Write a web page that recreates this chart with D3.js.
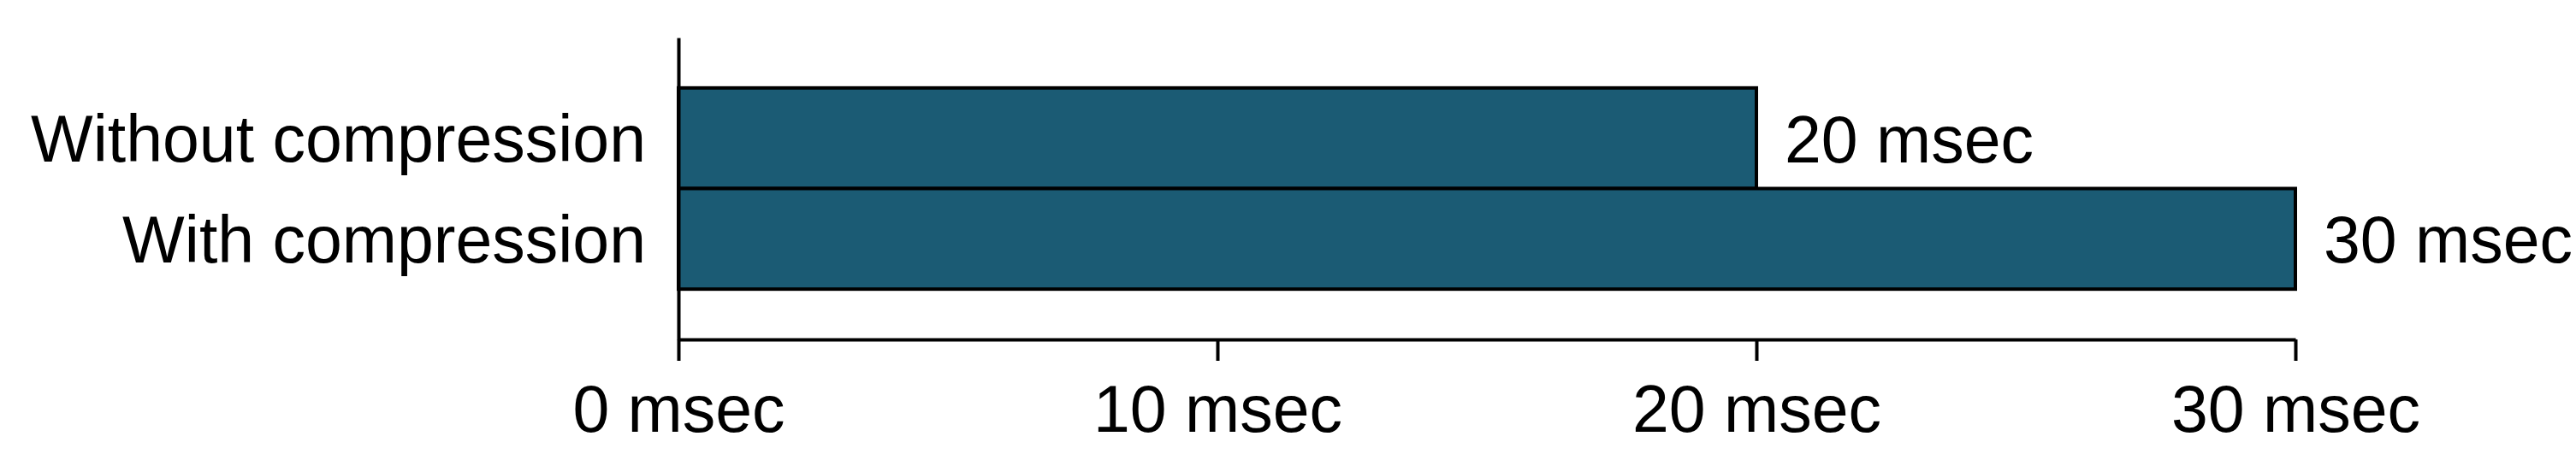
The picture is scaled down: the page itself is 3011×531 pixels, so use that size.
<!DOCTYPE html>
<html>
<head>
<meta charset="utf-8">
<script src="https://cdn.jsdelivr.net/npm/d3@7"></script>
<style>
  body { margin: 0; background: #fff; }
  svg text { font-family: "Liberation Sans", Arial, sans-serif; fill: #000; }
</style>
</head>
<body>
<script>
// chart data
var categories = ["Without compression", "With compression"];
var timesMsec = [20, 30];
var tickValues = [0, 10, 20, 30];

var svgWidth = 3011;
var svgHeight = 531;

// plot area bounds in pixels
var plot = { left: 793, right: 2683, top: 44, bottom: 397 };
var fontSize = 77;
var barColor = "#1b5b74";

var svg = d3.select("body")
  .append("svg")
  .attr("width", svgWidth)
  .attr("height", svgHeight);

var xScale = d3.scaleLinear()
  .domain([0, 30])
  .range([plot.left, plot.right]);

var yScale = d3.scaleBand()
  .domain(categories)
  .range([plot.top, plot.bottom])
  .paddingInner(0)
  .paddingOuter(0.5);

var rows = categories.map(function(c, i) {
  return { name: c, value: timesMsec[i] };
});

// bars
svg.selectAll(".bar")
  .data(rows)
  .enter()
  .append("rect")
  .attr("class", "bar")
  .attr("x", xScale(0))
  .attr("y", d => yScale(d.name))
  .attr("width", d => xScale(d.value) - xScale(0))
  .attr("height", yScale.bandwidth())
  .attr("fill", barColor)
  .attr("stroke", "#000")
  .attr("stroke-width", 4);

// value labels at the end of each bar
svg.selectAll(".value")
  .data(rows)
  .enter()
  .append("text")
  .attr("class", "value")
  .attr("x", d => xScale(d.value) + 33)
  .attr("y", d => yScale(d.name) + yScale.bandwidth() / 2 + 28)
  .attr("font-size", fontSize)
  .text(d => d.value + " msec");

// bottom axis
var bottomAxis = d3.axisBottom(xScale)
  .tickValues(tickValues)
  .tickFormat(d => d + " msec")
  .tickSize(25)
  .tickSizeOuter(0)
  .tickPadding(28);

var gx = svg.append("g")
  .attr("transform", `translate(0, ${plot.bottom})`)
  .call(bottomAxis);
gx.selectAll("path, line").attr("stroke", "#000").attr("stroke-width", 4);
gx.selectAll("text").attr("font-size", fontSize).attr("font-family", null);

// left axis, labels only
var leftAxis = d3.axisLeft(yScale)
  .tickSize(0)
  .tickSizeOuter(0)
  .tickPadding(38);

var gy = svg.append("g")
  .attr("transform", `translate(${plot.left}, 0)`)
  .call(leftAxis);
gy.select(".domain").attr("stroke", "#000").attr("stroke-width", 4);
gy.selectAll("text")
  .attr("font-size", fontSize)
  .attr("font-family", null)
  .attr("dy", "0.36em");
</script>
</body>
</html>
